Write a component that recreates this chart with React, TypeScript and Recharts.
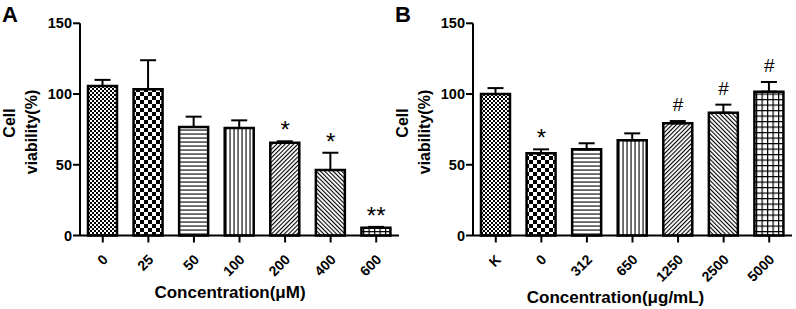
import React from 'react';
import { ComposedChart, Bar, Line, XAxis, YAxis, Cell, ErrorBar, LabelList } from 'recharts';

const FONT = '"Liberation Sans", Arial, sans-serif';

// Panel A: concentration in µM
const catsA = ['0', '25', '50', '100', '200', '400', '600'];
const valsA = [105.7, 103.4, 76.7, 76.0, 65.6, 46.3, 5.4];
const errsA = [4.3, 20.5, 7.3, 5.4, 1.0, 12.2, 0.7];
const sigA = ['', '', '', '', '*', '*', '**'];

// Panel B: concentration in µg/mL
const catsB = ['K', '0', '312', '650', '1250', '2500', '5000'];
const valsB = [100, 58.1, 60.9, 67.3, 79.3, 86.8, 101.7];
const errsB = [4.2, 2.8, 4.3, 4.9, 1.6, 5.7, 6.8];
const sigB = ['', '*', '', '', '#', '#', '#'];

const yTicks = [0, 50, 100, 150];
const fills = ['fineCheck', 'bigCheck', 'hLines', 'vLines', 'diagUp', 'diagDown', 'grid'];

const Patterns: React.FC<{ id: string }> = ({ id }) => (
  <defs>
    <pattern id={`${id}-fineCheck`} width={4} height={4} patternUnits="userSpaceOnUse">
      <rect width={4} height={4} fill="#fff" />
      <rect width={2} height={2} fill="#000" />
      <rect x={2} y={2} width={2} height={2} fill="#000" />
    </pattern>
    <pattern id={`${id}-bigCheck`} width={8} height={8} patternUnits="userSpaceOnUse">
      <rect width={8} height={8} fill="#fff" />
      <rect width={4} height={4} fill="#000" />
      <rect x={4} y={4} width={4} height={4} fill="#000" />
    </pattern>
    <pattern id={`${id}-hLines`} width={4} height={4} patternUnits="userSpaceOnUse">
      <rect width={4} height={4} fill="#fff" />
      <rect y={1.5} width={4} height={1.1} fill="#000" />
    </pattern>
    <pattern id={`${id}-vLines`} width={4} height={4} patternUnits="userSpaceOnUse">
      <rect width={4} height={4} fill="#fff" />
      <rect x={1.5} width={1.1} height={4} fill="#000" />
    </pattern>
    <pattern id={`${id}-diagUp`} width={3} height={3} patternUnits="userSpaceOnUse" patternTransform="rotate(45)">
      <rect width={3} height={3} fill="#fff" />
      <rect width={1.1} height={3} fill="#000" />
    </pattern>
    <pattern id={`${id}-diagDown`} width={3} height={3} patternUnits="userSpaceOnUse" patternTransform="rotate(-45)">
      <rect width={3} height={3} fill="#fff" />
      <rect width={1.1} height={3} fill="#000" />
    </pattern>
    <pattern id={`${id}-grid`} width={5.5} height={5.5} patternUnits="userSpaceOnUse">
      <rect width={5.5} height={5.5} fill="#fff" />
      <rect width={5.5} height={1.2} fill="#000" />
      <rect width={1.2} height={5.5} fill="#000" />
    </pattern>
  </defs>
);

const XTick = (props: any) => {
  const { x, y, payload } = props;
  return (
    <g transform={`translate(${x + 6},${y + 16})`}>
      <text textAnchor="end" transform="rotate(-45)" fontSize={14} fontWeight="bold" fontFamily={FONT} fill="#000">
        {payload.value}
      </text>
    </g>
  );
};

// significance marks sit above the error bar top
const SigLabel = (props: any) => {
  const { value } = props;
  if (!value) return null;
  const vb = props.viewBox || {};
  const x = vb.x ?? props.x;
  const y = vb.y ?? props.y;
  const star = String(value).includes('*');
  return (
    <text x={x} y={y - (star ? 3 : 10)} textAnchor="middle" fontSize={star ? 24 : 19} fontFamily={FONT} fill="#000">
      {value}
    </text>
  );
};

interface PanelProps {
  id: string;
  letter: string;
  cats: string[];
  vals: number[];
  errs: number[];
  sig: string[];
  xTitle: string;
  xTitleX: number;
  xTitleY: number;
}

const Panel: React.FC<PanelProps> = ({ id, letter, cats, vals, errs, sig, xTitle, xTitleX, xTitleY }) => {
  const rows = cats.map((c, i) => ({
    name: c,
    value: vals[i],
    err: [0, errs[i]],
    top: vals[i] + errs[i],
    sig: sig[i],
  }));

  return (
    <ComposedChart width={400} height={309} data={rows} margin={{ top: 23.3, right: 1, bottom: 0, left: 0 }}>
      <Patterns id={id} />
      <XAxis
        dataKey="name"
        height={73.5}
        interval={0}
        tickSize={7}
        axisLine={{ stroke: '#000', strokeWidth: 2 }}
        tickLine={{ stroke: '#000', strokeWidth: 2 }}
        tick={<XTick />}
      />
      <YAxis
        width={80}
        domain={[0, 150]}
        ticks={yTicks}
        tickSize={7}
        tickMargin={1}
        axisLine={{ stroke: '#000', strokeWidth: 2 }}
        tickLine={{ stroke: '#000', strokeWidth: 2 }}
        tick={{ fill: '#000', fontSize: 14.5, fontWeight: 'bold', fontFamily: FONT }}
      />
      <Bar dataKey="value" barSize={29} stroke="#000" strokeWidth={2.5} isAnimationActive={false}>
        {rows.map((r, i) => (
          <Cell key={`cell-${i}`} fill={`url(#${id}-${fills[i]})`} />
        ))}
        <ErrorBar dataKey="err" direction="y" width={8} stroke="#000" strokeWidth={2} />
      </Bar>
      <Line dataKey="top" stroke="none" dot={false} activeDot={false} isAnimationActive={false}>
        <LabelList dataKey="sig" content={<SigLabel />} />
      </Line>
      <g fontFamily={FONT} fontWeight="bold" fill="#000">
        <text x={2} y={22} fontSize={22}>{letter}</text>
        <text transform="translate(15,123) rotate(-90)" textAnchor="middle" fontSize={16}>Cell</text>
        <text transform="translate(37,132) rotate(-90)" textAnchor="middle" fontSize={16}>viability(%)</text>
        <text x={xTitleX} y={xTitleY} textAnchor="middle" fontSize={17}>{xTitle}</text>
      </g>
    </ComposedChart>
  );
};

export default function App() {
  return (
    <div style={{ position: 'absolute', left: 0, top: 0, width: 796, height: 309, background: '#fff' }}>
      <div style={{ position: 'absolute', left: 0, top: 0 }}>
        <Panel id="pa" letter="A" cats={catsA} vals={valsA} errs={errsA} sig={sigA}
          xTitle="Concentration(μM)" xTitleX={230} xTitleY={298} />
      </div>
      <div style={{ position: 'absolute', left: 392.5, top: 0 }}>
        <Panel id="pb" letter="B" cats={catsB} vals={valsB} errs={errsB} sig={sigB}
          xTitle="Concentration(μg/mL)" xTitleX={222.5} xTitleY={303} />
      </div>
    </div>
  );
}
